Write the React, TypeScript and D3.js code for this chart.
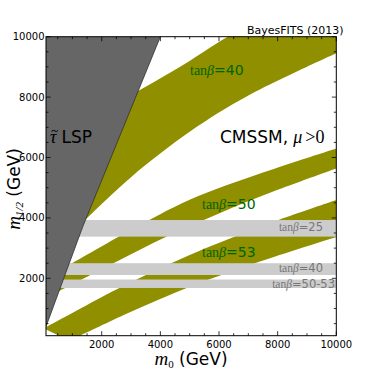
import React from 'react';
import * as d3 from 'd3';

type Pt = [number, number];

// stau LSP boundary (m0, m1/2 in GeV)
const lspEdge: Pt[] = [[100, 400], [1350, 3700], [4000, 10000]];

// olive bands: upper and lower edges
const band40Upper: Pt[] = [[2500, 7800], [3240, 8200], [4800, 9080], [6300, 10000], [10000, 11900]];
const band40Lower: Pt[] = [[1000, 3550], [1500, 4000], [3000, 5350], [5000, 6850], [7000, 8050], [10000, 9450]];
const band50Upper: Pt[] = [[500, 2250], [1000, 2510], [3000, 3600], [5000, 4600], [7500, 5500], [10000, 6300]];
const band50Lower: Pt[] = [[200, 1410], [550, 1580], [2500, 2550], [4200, 3380], [6000, 4150], [8000, 4930], [10000, 5640]];
const band53Upper: Pt[] = [[0, 350], [124, 400], [2500, 1630], [5000, 2770], [7500, 3740], [10000, 4590]];
const band53Lower: Pt[] = [[900, -60], [1260, 100], [3000, 890], [5000, 1720], [7500, 2590], [10000, 3370]];

// grey horizontal strips
const stripLow = [3380, 2110, 1680];
const stripHigh = [3930, 2500, 1960];
const stripLabels = ['25', '40', '50-53'];

const bandLabels = ['40', '50', '53'];

const xTicks = [2000, 4000, 6000, 8000, 10000];
const yTicks = [2000, 4000, 6000, 8000, 10000];
const minorTicks = d3.range(500, 10001, 500);

const OLIVE = '#8f8f00';
const SERIF = "'Liberation Serif', 'DejaVu Serif', serif";
const SANS = "'DejaVu Sans', sans-serif";

export default function App() {
  const W = 374, H = 374;
  const left = 46, right = 336.3, top = 36.7, bottom = 335.7;

  const x = d3.scaleLinear().domain([100, 10000]).range([left, right]);
  const y = d3.scaleLinear().domain([100, 10000]).range([bottom, top]);

  const edge = d3.line<Pt>().x(d => x(d[0])).y(d => y(d[1])).curve(d3.curveCatmullRom.alpha(0.5));
  const straight = d3.line<Pt>().x(d => x(d[0])).y(d => y(d[1]));

  const bandPath = (upper: Pt[], lower: Pt[]) => {
    const a = edge(upper)!;
    const b = edge([...lower].reverse())!;
    return a + 'L' + b.slice(1) + 'Z';
  };

  const lspPoly = straight([...lspEdge, [100, 10000]])! + 'Z';

  const bands = [
    bandPath(band40Upper, band40Lower),
    bandPath(band50Upper, band50Lower),
    bandPath(band53Upper, band53Lower),
  ];

  // label anchors (pixel positions)
  const bandLabelPos = [[190, 75], [202, 208.5], [202, 257]];
  const stripLabelPos = [[323, 231], [323, 272], [335, 287.5]];

  const majorLen = 4.5, minorLen = 2.5;

  return (
    <svg width={W} height={H} style={{ display: 'block', position: 'absolute', left: 0, top: 0 }}>
      <rect width={W} height={H} fill="#fff" />
      <defs>
        <clipPath id="plot">
          <rect x={left} y={top} width={right - left} height={bottom - top} />
        </clipPath>
      </defs>
      <g clipPath="url(#plot)">
        {bands.map((d, i) => <path key={i} d={d} fill={OLIVE} />)}
        {stripLow.map((lo, i) => (
          <rect key={i} x={left} width={right - left} y={y(stripHigh[i])} height={y(lo) - y(stripHigh[i])} fill="#cccccc" />
        ))}
        <path d={lspPoly} fill="#666666" />
        <path d={straight(lspEdge)!} fill="none" stroke="#333" strokeWidth={0.8} />

        {stripLabels.map((t, i) => (
          <text key={i} x={stripLabelPos[i][0]} y={stripLabelPos[i][1]} fontSize={11.5} fill="#777" textAnchor="end">
            <tspan fontFamily={SERIF}>tan</tspan>
            <tspan fontFamily={SERIF} fontStyle="italic">β</tspan>
            <tspan fontFamily={SANS}>={t}</tspan>
          </text>
        ))}
        {bandLabels.map((t, i) => (
          <text key={i} x={bandLabelPos[i][0]} y={bandLabelPos[i][1]} fontSize={14} fill="#006400">
            <tspan fontFamily={SERIF}>tan</tspan>
            <tspan fontFamily={SERIF} fontStyle="italic">β</tspan>
            <tspan fontFamily={SANS}>={t}</tspan>
          </text>
        ))}

        {/* stau LSP label, tilde drawn as a small wave */}
        <path d="M51.5,131.5 q1.6,-2.2 3.3,-0.6 t3.3,-0.6" fill="none" stroke="#000" strokeWidth={1} />
        <text x={50} y={143} fill="#000">
          <tspan fontSize={18} fontFamily={SERIF} fontStyle="italic">τ</tspan>
          <tspan fontSize={17} fontFamily={SANS} dx={5}>LSP</tspan>
        </text>

        {/* model label */}
        <text x={220} y={143} fill="#000">
          <tspan fontSize={17} fontFamily={SANS}>CMSSM,</tspan>
          <tspan fontSize={18} fontFamily={SERIF} fontStyle="italic" dx={5}>μ</tspan>
          <tspan fontSize={18} fontFamily={SERIF} dx={3}>&gt;0</tspan>
        </text>
      </g>

      {/* frame */}
      <rect x={left} y={top} width={right - left} height={bottom - top} fill="none" stroke="#000" strokeWidth={1} />

      {/* ticks, inward on all sides */}
      <g stroke="#000" strokeWidth={0.8}>
        {minorTicks.map(v => {
          const len = xTicks.includes(v) ? majorLen : minorLen;
          return (
            <g key={v}>
              <line x1={x(v)} x2={x(v)} y1={bottom} y2={bottom - len} />
              <line x1={x(v)} x2={x(v)} y1={top} y2={top + len} />
              <line x1={left} x2={left + len} y1={y(v)} y2={y(v)} />
              <line x1={right} x2={right - len} y1={y(v)} y2={y(v)} />
            </g>
          );
        })}
      </g>

      <g fontFamily={SANS} fontSize={10} fill="#000">
        {xTicks.map(v => (
          <text key={v} x={x(v)} y={347.5} textAnchor="middle">{v}</text>
        ))}
        {yTicks.map(v => (
          <text key={v} x={44.5} y={y(v)} dy="0.35em" textAnchor="end">{v}</text>
        ))}
      </g>

      <text x={191} y={365} fontSize={17} textAnchor="middle" fill="#000">
        <tspan fontFamily={SERIF} fontStyle="italic" fontSize={19}>m</tspan>
        <tspan fontFamily={SERIF} fontSize={11} dy={3}>0</tspan>
        <tspan fontFamily={SANS} dy={-3}> (GeV)</tspan>
      </text>
      <text transform="translate(19.5,189) rotate(-90)" fontSize={17} textAnchor="middle" fill="#000">
        <tspan fontFamily={SERIF} fontStyle="italic" fontSize={19}>m</tspan>
        <tspan fontFamily={SERIF} fontStyle="italic" fontSize={11} dy={3}>1/2</tspan>
        <tspan fontFamily={SANS} dy={-3}> (GeV)</tspan>
      </text>

      <text x={247} y={34.3} fontFamily={SANS} fontSize={11} fill="#000">BayesFITS (2013)</text>
    </svg>
  );
}
